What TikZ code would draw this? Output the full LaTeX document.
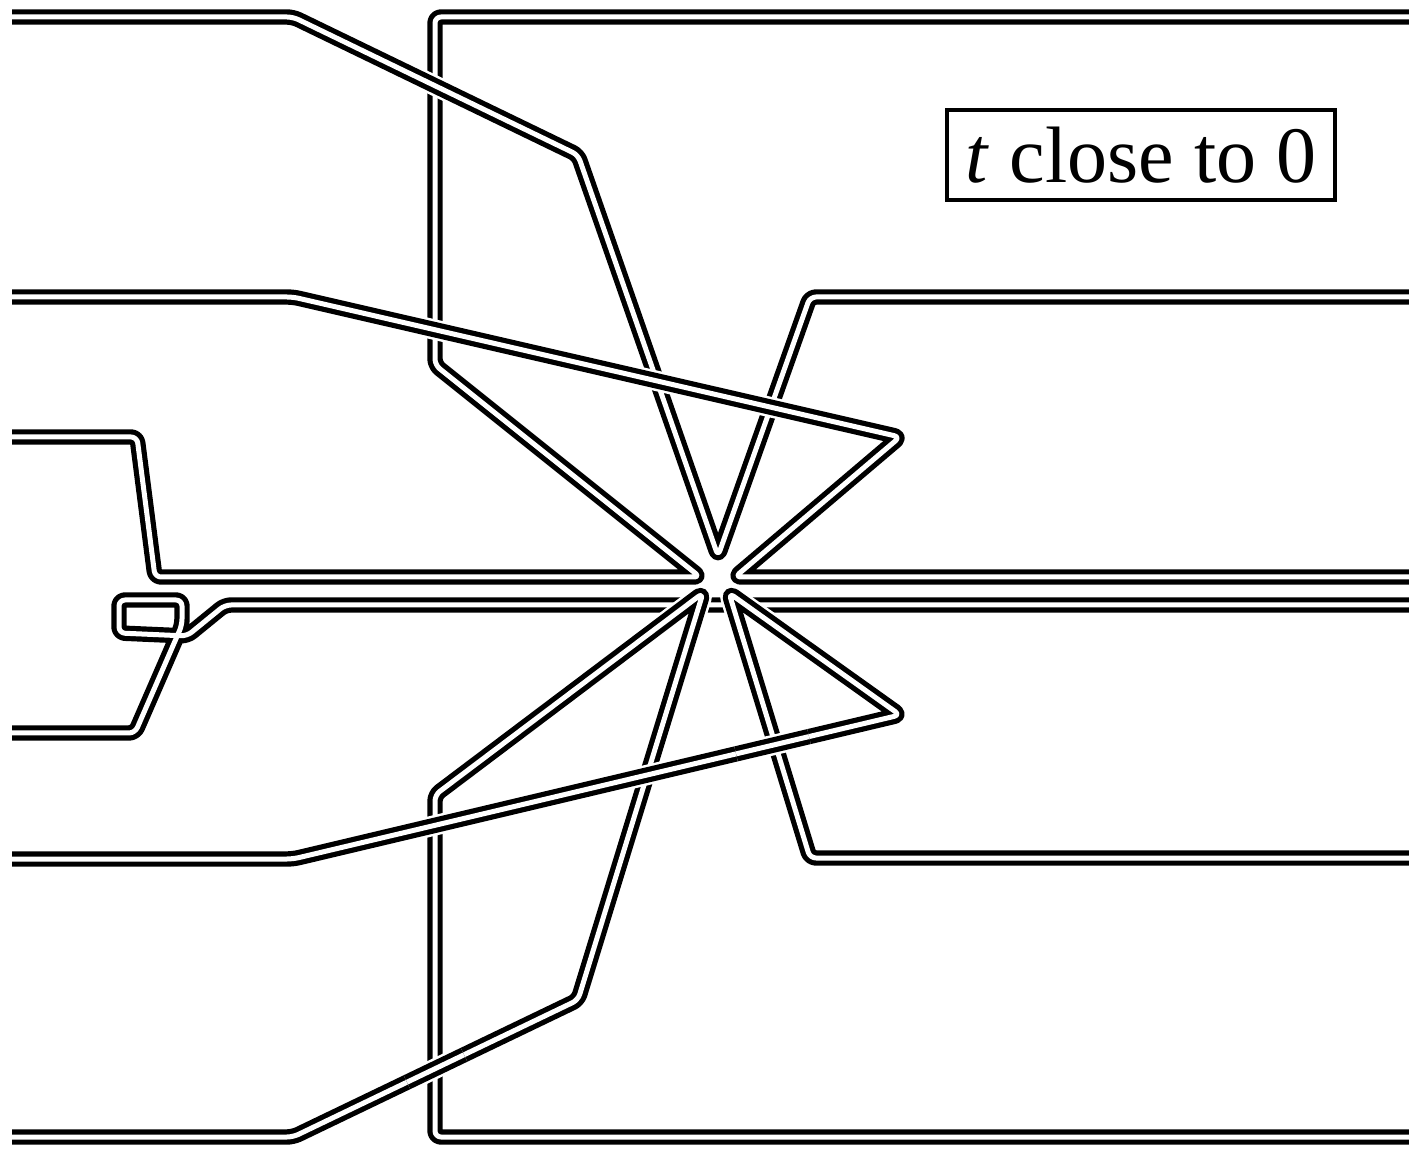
\documentclass[tikz,border=0pt]{standalone}
\usepackage{fontspec}
\setmainfont{Liberation Serif}
\usetikzlibrary{calc}
\begin{document}
\begin{tikzpicture}[x=0.5pt,y=-0.5pt,
  rib/.style={line width=2.6pt, double=white, double distance=2.5pt, rounded corners=3pt, line join=round},
  ribo/.style={rib, preaction={draw=white, line width=10.2pt}},
  lblbox/.style={draw, line width=1.6pt, minimum width=194pt, minimum height=45pt, inner sep=0pt, font=\fontsize{40}{48}\selectfont}]
\useasboundingbox (0,0) rectangle (1409,1149);
% strand A
\coordinate (A0) at (12,17);   \coordinate (A1) at (293,17);
\coordinate (A2) at (578,155); \coordinate (A3) at (718,556);
\coordinate (A4) at (810,297); \coordinate (A5) at (1409,297);
% strand B
\coordinate (B0) at (1409,17); \coordinate (B1) at (435,17);
\coordinate (B2) at (435,365); \coordinate (B3) at (700,577);
\coordinate (B4) at (155,577); \coordinate (B5) at (137,437);
\coordinate (B6) at (12,437);
% strand C
\coordinate (C0) at (12,297);  \coordinate (C1) at (293,297);
\coordinate (C2) at (900,437); \coordinate (C3) at (735,577);
\coordinate (C4) at (1409,577);
% strand D
\coordinate (D0) at (1409,1137); \coordinate (D1) at (435,1137);
\coordinate (D2) at (435,795);   \coordinate (D3) at (703,593);
\coordinate (D4) at (578,1000);  \coordinate (D5) at (293,1137);
\coordinate (D6) at (12,1137);
% strand E
\coordinate (E0) at (12,859);  \coordinate (E1) at (293,859);
\coordinate (E2) at (900,715); \coordinate (E3) at (729,593);
\coordinate (E4) at (810,858); \coordinate (E5) at (1409,858);
% strand F
\coordinate (F0) at (12,733);  \coordinate (F1) at (135,733);
\coordinate (F2) at (182,625); \coordinate (F3) at (182,600);
\coordinate (F4) at (119,600); \coordinate (F5) at (119,633);
\coordinate (F6) at (187,636); \coordinate (F7) at (225,605);
\coordinate (F8) at (1409,605);

\draw[rib] (F0) -- (F1) -- (F2) -- (F3) -- (F4) -- (F5) -- (F6) -- (F7) -- (F8);
\draw[ribo] (D0) -- (D1) -- (D2) -- (D3) -- (D4) -- (D5) -- (D6);
\draw[ribo] (E0) -- (E1) -- (E2) -- (E3) -- (E4) -- (E5);
\draw[ribo] ($(D4)!0.40!(D5)$) -- ($(D4)!0.60!(D5)$);
\draw[ribo] ($(E1)!0.73!(E2)$) -- ($(E1)!0.85!(E2)$);
\draw[rib] (B0) -- (B1) -- (B2) -- (B3) -- (B4) -- (B5) -- (B6);
\draw[ribo] (A0) -- (A1) -- (A2) -- (A3) -- (A4) -- (A5);
\draw[ribo] (C0) -- (C1) -- (C2) -- (C3) -- (C4);

\node[lblbox] (lbl) at (1141,155) {\textit{t} close to 0};
\end{tikzpicture}
\end{document}
